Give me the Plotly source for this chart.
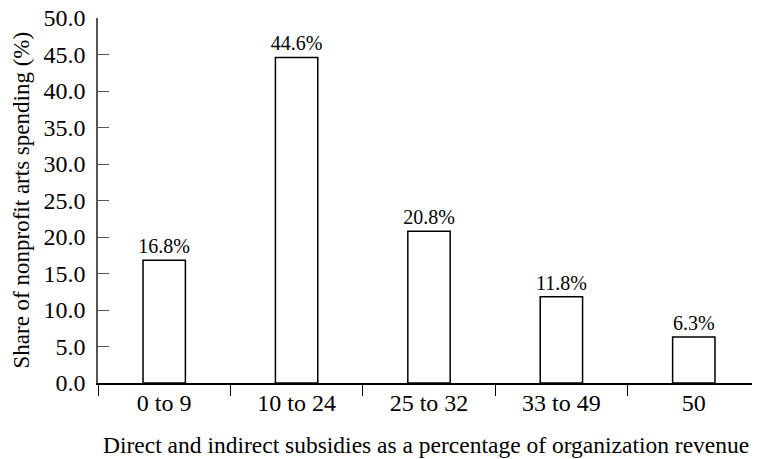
import plotly.graph_objects as go

categories = ["0 to 9", "10 to 24", "25 to 32", "33 to 49", "50"]
values = [16.8, 44.6, 20.8, 11.8, 6.3]
labels = ["16.8%", "44.6%", "20.8%", "11.8%", "6.3%"]
x_title = "Direct and indirect subsidies as a percentage of organization revenue"
y_title = "Share of nonprofit arts spending (%)"

FONT = "Liberation Serif, Times New Roman, serif"

fig = go.Figure(go.Bar(
    x=categories, y=values, text=labels, textposition="outside",
    textfont=dict(family=FONT, size=20, color="black"),
    constraintext="none",
    marker=dict(color="white", line=dict(color="black", width=1.5)),
    width=0.32, cliponaxis=False,
))

# the page body adds an 8px offset, so the figure is sized to compensate
fig.update_layout(
    width=752, height=451,
    margin=dict(l=90, r=0, t=10, b=76),
    plot_bgcolor="white", paper_bgcolor="white",
    font=dict(family=FONT, size=24, color="black"),
    showlegend=False,
    xaxis=dict(
        type="category", tickson="boundaries", ticks="outside", ticklen=11,
        tickcolor="black", showline=True, linecolor="black", linewidth=1.5,
        showgrid=False, tickfont=dict(size=24), automargin=False,
        ticklabelstandoff=-3,
    ),
    yaxis=dict(
        range=[0, 50], dtick=5, tickformat=".1f", ticks="inside", ticklen=11,
        tickcolor="#555", showline=True, linecolor="#555", linewidth=1.5,
        showgrid=False, zeroline=False, tickfont=dict(size=24), automargin=False,
        ticklabeloverflow="allow", ticklabelstandoff=6,
    ),
    annotations=[
        dict(text=x_title, xref="paper", yref="paper", x=0.5, y=0,
             yshift=-62, xshift=-3, xanchor="center", yanchor="middle",
             showarrow=False, font=dict(family=FONT, size=23.5, color="black")),
        dict(text=y_title, xref="paper", yref="paper", x=0, y=0.5,
             xshift=-77, textangle=-90, xanchor="center", yanchor="middle",
             showarrow=False, font=dict(family=FONT, size=23, color="black")),
    ],
)

fig.write_html("out.html")
